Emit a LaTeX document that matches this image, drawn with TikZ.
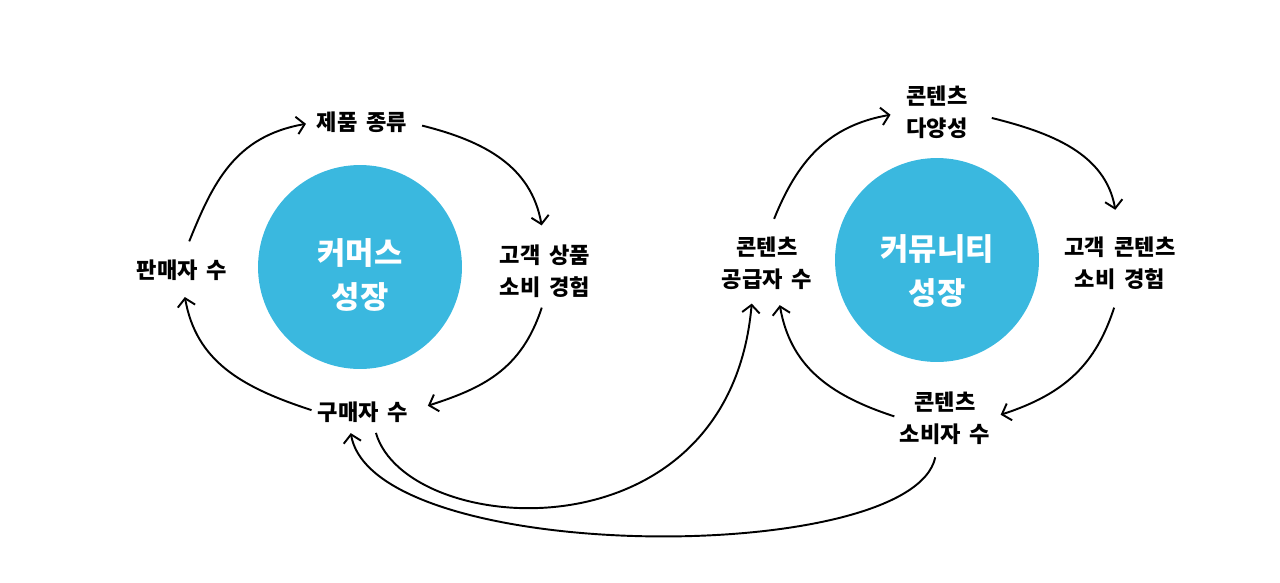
\documentclass[tikz,border=0pt]{standalone}
\usepackage{fontspec}
\setmainfont{Noto Sans CJK KR}[WordSpace=1.8]
\usepackage{xcolor}
\usepackage{tikz}
\usetikzlibrary{arrows.meta}
\definecolor{hubblue}{HTML}{3AB8DF}

\begin{document}
\begin{tikzpicture}[
  x=0.02cm, y=0.02cm,
  lbl/.style={inner sep=0pt, align=center, font=\fontsize{12.6}{18}\selectfont\bfseries},
  hub/.style={circle, fill=hubblue, minimum size=4.08cm, inner sep=0pt},
  hubtext/.style={inner sep=0pt, align=center, text=white, font=\fontsize{17.5}{25}\selectfont\bfseries},
  arr/.style={-{Straight Barb[length=4.5pt,width=10pt]}, line width=1.1pt, looseness=1.1},
]
\useasboundingbox (0,0) rectangle (1280,-582);

% commerce loop
\node[hub] (com) at (360,-267) {};
\node[hubtext] (comtext) at (360,-275) {커머스\\성장};
\node[lbl] (kind) at (362,-122) {제품 종류};
\node[lbl] (exper) at (545,-271) {고객 상품\\소비 경험};
\node[lbl] (buyer) at (363,-412) {구매자 수};
\node[lbl] (seller) at (182,-270) {판매자 수};

% community loop
\node[hub] (cmty) at (937,-260) {};
\node[hubtext] (cmtytext) at (937,-271) {커뮤니티\\성장};
\node[lbl] (variety) at (937,-112) {콘텐츠\\다양성};
\node[lbl] (cexper) at (1120,-263) {고객 콘텐츠\\소비 경험};
\node[lbl] (consumer) at (945,-418) {콘텐츠\\소비자 수};
\node[lbl] (supplier) at (767,-263) {콘텐츠\\공급자 수};

\draw[arr, shorten <=11pt, shorten >=6pt] (seller.north) to[out=68, in=190] (kind.west);
\draw[arr, shorten <=8.5pt, shorten >=11pt] (kind.east) to[out=-14, in=100] (exper.north);
\draw[arr, shorten <=6pt, shorten >=11.5pt] (exper.south) to[out=-108, in=18] (buyer.east);
\draw[arr, shorten <=3.5pt, shorten >=9.4pt] (buyer.west) to[out=162, in=-80] (seller.south);

\draw[arr, shorten <=10.8pt, shorten >=9pt] (supplier.north) to[out=68, in=190] (variety.west);
\draw[arr, shorten <=14pt, shorten >=15.4pt] (variety.east) to[out=-14, in=100] (cexper.north);
\draw[arr, shorten <=10.8pt, shorten >=6pt] (cexper.south) to[out=-108, in=18] (consumer.east);
\draw[arr, shorten <=3pt, shorten >=9pt] (consumer.west) to[out=162, in=-80] ([xshift=5.7pt]supplier.south);

% cross links
\draw[arr, shorten <=6pt, shorten >=8pt] ([xshift=5.7pt]buyer.south)
  .. controls +(-74:120) and +(-95:275) .. ([xshift=-8pt]supplier.south);
\draw[arr, shorten <=7.4pt, shorten >=6pt] ([xshift=-4pt]consumer.south)
  .. controls +(-102:125) and +(-80:145) .. ([xshift=-8pt]buyer.south);
\end{tikzpicture}
\end{document}
